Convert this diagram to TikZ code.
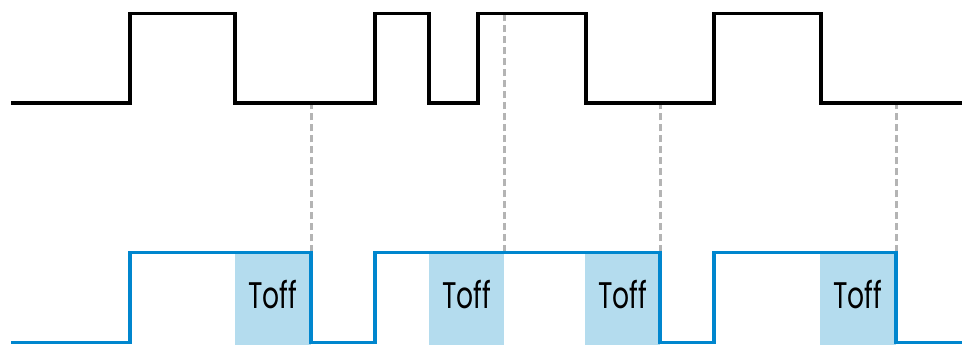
\documentclass[tikz,border=0pt]{standalone}
\usepackage{fontspec}
\setmainfont{Poppins}
\usepackage{tikz}
\definecolor{outblue}{RGB}{0,134,206}
\definecolor{toffbox}{RGB}{180,220,238}
\definecolor{markgray}{RGB}{180,180,180}

\begin{document}
\begin{tikzpicture}[x=1pt,y=1pt]
\useasboundingbox (0,0) rectangle (962,345);

\fill[toffbox] (235,0) rectangle (311,92.5);
\fill[toffbox] (429,0) rectangle (504,92.5);
\fill[toffbox] (585,0) rectangle (660,92.5);
\fill[toffbox] (820,0) rectangle (896,92.5);

\coordinate (m1) at (311,92.5);
\coordinate (m2) at (504,92.5);
\coordinate (m3) at (660,92.5);
\coordinate (m4) at (896,92.5);
\draw [markgray, line width=3pt, dash pattern=on 7pt off 4pt] (m1) -- ++(0,148);
\draw [markgray, line width=3pt, dash pattern=on 7pt off 4pt] (m2) -- ++(0,237);
\draw [markgray, line width=3pt, dash pattern=on 7pt off 4pt] (m3) -- ++(0,148);
\draw [markgray, line width=3pt, dash pattern=on 7pt off 4pt] (m4) -- ++(0,148);

\draw [line width=3.2pt] (11,242) -- (130,242) -- (130,331.5) -- (235,331.5) -- (235,242)
  -- (375,242) -- (375,331.5) -- (429,331.5) -- (429,242) -- (478,242) -- (478,331.5)
  -- (586,331.5) -- (586,242) -- (714,242) -- (714,331.5) -- (821,331.5) -- (821,242) -- (962,242);

\draw [line width=3.2pt, outblue] (11,2.5) -- (130,2.5) -- (130,92.5) -- (311,92.5) -- (311,2.5)
  -- (375,2.5) -- (375,92.5) -- (660,92.5) -- (660,2.5) -- (714,2.5) -- (714,92.5)
  -- (896,92.5) -- (896,2.5) -- (962,2.5);

\node[anchor=base, font=\fontsize{37}{40}\selectfont] (toff1) at (272.5,36) {\scalebox{0.72}[1]{Toff}};
\node[anchor=base, font=\fontsize{37}{40}\selectfont] (toff2) at (466.5,36) {\scalebox{0.72}[1]{Toff}};
\node[anchor=base, font=\fontsize{37}{40}\selectfont] (toff3) at (622.5,36) {\scalebox{0.72}[1]{Toff}};
\node[anchor=base, font=\fontsize{37}{40}\selectfont] (toff4) at (858,36) {\scalebox{0.72}[1]{Toff}};
\end{tikzpicture}
\end{document}
